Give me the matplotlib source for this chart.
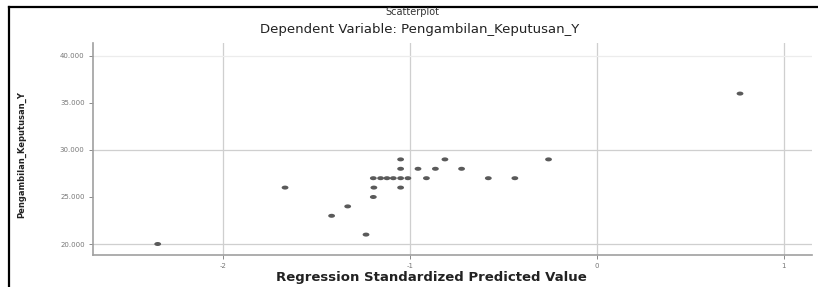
import numpy as np
import matplotlib
matplotlib.use("Agg")
import matplotlib.pyplot as plt
from matplotlib.lines import Line2D

# Data
pred_x = [-2.349, -1.668, -1.419, -1.333, -1.235,
          -1.196, -1.193, -1.196,
          -1.157, -1.123, -1.089, -1.050, -1.011, -0.912, -0.581, -0.439,
          -1.050, -0.957, -0.864, -0.724,
          -1.050, -0.813, -0.259,
          -1.050,
          0.765]
resp_y = [20, 26, 23, 24, 21,
          25, 26, 27,
          27, 27, 27, 27, 27, 27, 27, 27,
          28, 28, 28, 28,
          29, 29, 29,
          26,
          36]
x_ticks = [-2, -1, 0, 1]
x_tick_labels = ["-2", "-1", "0", "1"]
y_ticks = [20, 25, 30, 35, 40]
y_tick_labels = ["20.000", "25.000", "30.000", "35.000", "40.000"]
grid_y = [20, 30, 40]

W, H = 818, 287
fig = plt.figure(figsize=(W / 100, H / 100), dpi=100)
fig.patch.set_facecolor("white")

ax = fig.add_axes([93 / W, 1 - 255 / H, (812 - 93) / W, (255 - 43) / H])
ax.set_xlim(-2.695, 1.150)
ax.set_ylim(18.83, 41.38)

for gx in x_ticks:
    ax.axvline(gx, color="#cfcfcf", lw=0.9, zorder=0)
for gy in grid_y:
    ax.axhline(gy, color="#cfcfcf" if gy != 40 else "#ececec", lw=0.9, zorder=0)

t = np.linspace(0, 2 * np.pi, 40)
ell = np.column_stack([1.7 * np.cos(t), np.sin(t)])
ax.scatter(pred_x, resp_y, marker=ell, s=24, color="#5a5a5a",
           edgecolors="none", zorder=3)

ax.set_xticks(x_ticks)
ax.set_xticklabels(x_tick_labels)
ax.set_yticks(y_ticks)
ax.set_yticklabels(y_tick_labels)
ax.tick_params(axis="both", labelsize=5, colors="#777777", length=3,
               width=0.6, pad=3)

for side in ["top", "right"]:
    ax.spines[side].set_visible(False)
for side in ["left", "bottom"]:
    ax.spines[side].set_color("#a0a0a0")
    ax.spines[side].set_linewidth(1.2)

fig.text(412 / W, 1 - 12 / H, "Scatterplot", ha="center", va="center",
         fontsize=7, color="#333333")
fig.text(420 / W, 1 - 29 / H, "Dependent Variable: Pengambilan_Keputusan_Y",
         ha="center", va="center", fontsize=9.5, color="#222222")
fig.text(431 / W, 1 - 278 / H, "Regression Standardized Predicted Value",
         ha="center", va="center", fontsize=9.5, color="#222222",
         fontweight="semibold")
fig.text(22 / W, 1 - 155 / H, "Pengambilan_Keputusan_Y", ha="center",
         va="center", rotation=90, fontsize=6, color="#222222",
         fontweight="bold")

# Frame lines from the screenshot
fig.add_artist(Line2D([9 / W, 1.0], [1 - 7 / H, 1 - 7 / H], color="black",
                      lw=1.6, transform=fig.transFigure))
fig.add_artist(Line2D([9 / W, 9 / W], [0.0, 1 - 7 / H], color="black",
                      lw=1.6, transform=fig.transFigure))

fig.savefig("out.png", dpi=100)
